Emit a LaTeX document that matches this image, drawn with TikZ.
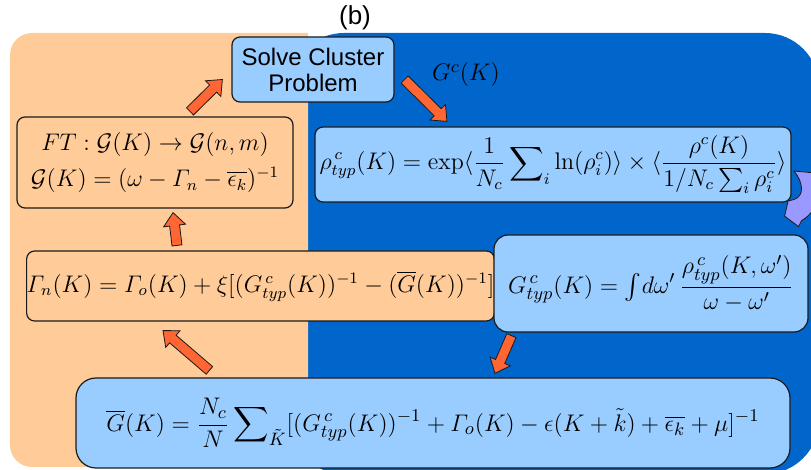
\documentclass[tikz,border=0pt]{standalone}
\usepackage{amsmath,amssymb}
\usepackage{fontspec}
\usepackage{tikz}
\usetikzlibrary{arrows.meta,calc}
\newfontfamily\labelfont{Liberation Sans}
\definecolor{panelor}{HTML}{FFCC99}
\definecolor{panelbl}{HTML}{0066CC}
\definecolor{boxbl}{HTML}{99CCFF}
\definecolor{arrowor}{HTML}{FF6633}
\definecolor{arrowpu}{HTML}{9999FF}
\definecolor{edge}{HTML}{1A1A1A}

\newcommand\blockarrow[2]{%
  \draw[blockarr] let \p1=(#1), \p2=(#2),
    \n1={atan2(\y2-\y1,\x2-\x1)}, \n2={veclen(\x2-\x1,\y2-\y1)} in
    {[shift={(\p1)}, rotate=\n1]
      (0pt,-2.5pt) -- ({\n2-6.5pt},-2.5pt) -- ({\n2-6.5pt},-5.5pt) -- (\n2,0pt)
      -- ({\n2-6.5pt},5.5pt) -- ({\n2-6.5pt},2.5pt) -- (0pt,2.5pt) -- cycle};}

\begin{document}
\begin{tikzpicture}[
  x=0.5pt, y=-0.5pt,
  eq/.style={draw=edge, line width=0.6pt, rounded corners=4pt, inner sep=0pt,
             align=center, font=\fontsize{12}{15}\selectfont},
  orbox/.style={eq, fill=panelor},
  blbox/.style={eq, fill=boxbl},
  blockarr/.style={draw=edge, line width=0.4pt, fill=arrowor, line join=miter}
]
\useasboundingbox (0,0) rectangle (811,470);
\fill[panelbl, rounded corners=27pt] (290,33) rectangle (819,474);
\fill[panelor] (308,33) [rounded corners=11pt] -- (10,33) -- (10,467) [sharp corners] -- (308,467) -- cycle;

\node[font=\labelfont\fontsize{13}{15}\selectfont] (title) at (355,18) {(b)};

\node[blbox, minimum width=81pt, minimum height=32.5pt, font=\labelfont\fontsize{12}{13}\selectfont]
  (solve) at (313,69.5) {Solve Cluster\\Problem};
\node[orbox, minimum width=138pt, minimum height=45.5pt] (ft) at (155,162.5)
  {$FT:\mathcal{G}(K)\rightarrow\mathcal{G}(n,m)$\\[3pt]
   $\mathcal{G}(K)=(\omega-\varGamma_n-\overline{\epsilon_k})^{-1}$};
\node[blbox, minimum width=238pt, minimum height=37.5pt] (rho) at (553,164.5)
  {$\displaystyle\rho^{\,c}_{typ}(K)=\exp\langle\frac{1}{N_c}\sum\nolimits_i\ln(\rho_i^c)\rangle\times
   \langle\frac{\rho^c(K)}{1/N_c\sum\nolimits_i\rho_i^c}\rangle$};
\node[orbox, minimum width=228.5pt, minimum height=35pt] (gamma) at (260.5,286)
  {$\varGamma_n(K)=\varGamma_o(K)+\xi[(G^{\,c}_{typ}(K))^{-1}-(\overline{G}(K))^{-1}]$};
\node[blbox, minimum width=157pt, minimum height=48.5pt, rounded corners=7pt,
  font=\fontsize{12.6}{15}\selectfont] (gtyp) at (651,283.5)
  {$\displaystyle G^{\,c}_{typ}(K)={\textstyle\int} d\omega'\,\frac{\rho^{\,c}_{typ}(K,\omega')}{\omega-\omega'}$};
\node[blbox, minimum width=357pt, minimum height=45pt, rounded corners=10pt,
  font=\fontsize{12.3}{15}\selectfont] (gbar) at (433,423)
  {$\displaystyle\overline{G}(K)=\frac{N_c}{N}\sum\nolimits_{\tilde K}[(G^{\,c}_{typ}(K))^{-1}
   +\varGamma_o(K)-\epsilon(K+\tilde k)+\overline{\epsilon_k}+\mu]^{-1}$};

\node[font=\fontsize{12.5}{15}\selectfont] (gc) at (466,75) {$G^c(K)$};

\blockarrow{[xshift=17.5pt,yshift=2.5pt]ft.north}{[xshift=-4.5pt,yshift=-5pt]solve.west}
\blockarrow{[xshift=5pt,yshift=-5pt]solve.east}{[xshift=-53pt,yshift=2.5pt]rho.north}
\blockarrow{[xshift=-41.75pt,yshift=2.5pt]gamma.north}{[xshift=9pt,yshift=-2pt]ft.south}
\blockarrow{[xshift=67pt,yshift=3.5pt]gbar.north west}{[xshift=-48.75pt,yshift=-4.5pt]gamma.south}
\blockarrow{[xshift=9pt,yshift=-1.5pt]gtyp.south west}{[xshift=31pt,yshift=2pt]gbar.north}

\begin{scope}[shift={(rho.south east)}]
  \draw[draw=edge, line width=0.4pt, fill=arrowpu]
    (2.5,-31.5) .. controls (12,-20) and (13,-6) .. (2,-3) -- (-3.5,-1.5)
    -- (-7,13.5) -- (7,24) -- (10,18) .. controls (31,6) and (31,-22) .. (20,-30) -- cycle;
\end{scope}
\end{tikzpicture}
\end{document}
